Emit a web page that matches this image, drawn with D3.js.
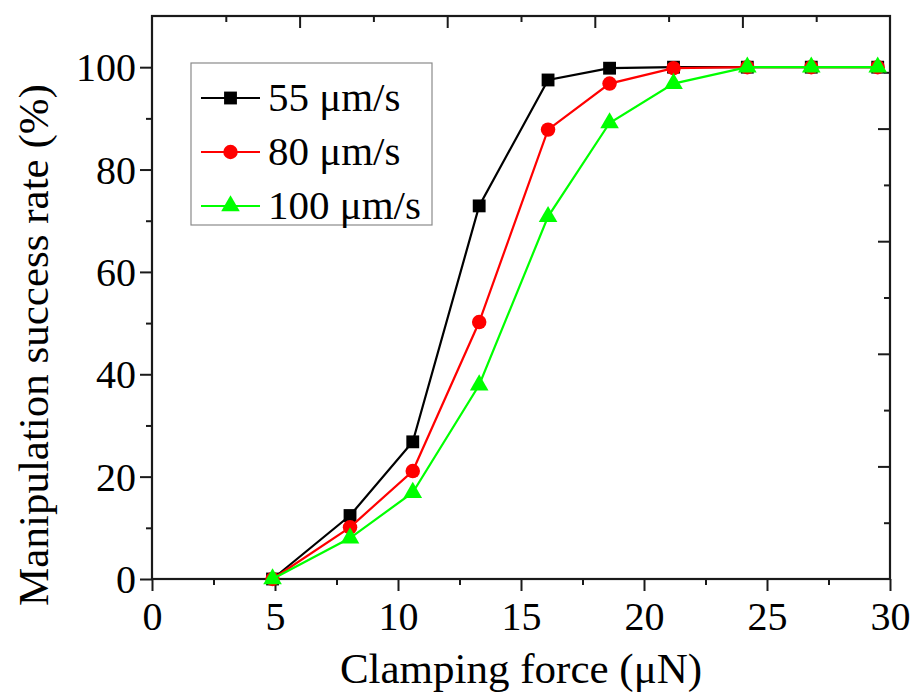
<!DOCTYPE html>
<html>
<head>
<meta charset="utf-8">
<script src="https://cdn.jsdelivr.net/npm/d3@7"></script>
<style>
  body { margin: 0; background: #fff; }
  text { font-family: "Liberation Serif", "Times New Roman", serif; fill: #000; }
</style>
</head>
<body>
<script>
// data
var force = [4.9, 8.05, 10.6, 13.3, 16.1, 18.6, 21.2, 24.2, 26.8, 29.5];
var rate55 = [0, 12.4, 26.8, 72.9, 97.5, 99.8, 100, 100, 100, 100];
var rate80 = [0, 10.1, 21.1, 50.2, 87.8, 96.8, 99.8, 100, 100, 100];
var rate100 = [0, 8.0, 16.9, 37.9, 70.8, 89.1, 96.8, 100, 100, 100];
var seriesNames = ["55 \u03bcm/s", "80 \u03bcm/s", "100 \u03bcm/s"];
var seriesColors = ["#000000", "#ff0000", "#00ff00"];
var seriesSymbols = [d3.symbolSquare, d3.symbolCircle, d3.symbolTriangle];
var symbolSizes = [165, 165, 150];
var xTicks = [0, 5, 10, 15, 20, 25, 30];
var yTicks = [0, 20, 40, 60, 80, 100];

var width = 915, height = 693;
var plot = { left: 152, right: 890, top: 16, bottom: 579 };

var svg = d3.select("body").append("svg")
  .attr("width", width)
  .attr("height", height);

var x = d3.scaleLinear().domain([0, 30]).range([plot.left, plot.right]);
var y = d3.scaleLinear().domain([0, 110]).range([plot.bottom, plot.top]);
// top and right axes carry their own plain tick spacing
var xTop = d3.scaleLinear().domain([0, 10]).range([plot.left, plot.right]);
var yRight = d3.scaleLinear().domain([0, 10]).range([plot.bottom, plot.top]);

var axisColor = "#1a1a1a";
var major = 12, minor = 6;

// bottom axis
var gBottom = svg.append("g").attr("transform", "translate(0," + plot.bottom + ")");
gBottom.call(d3.axisBottom(x).tickValues(d3.range(0, 30.01, 2.5)).tickSize(minor).tickFormat(""));
gBottom.selectAll(".tick line").attr("y2", function (d) { return d % 5 === 0 ? major : minor; });
gBottom.selectAll(".tick")
  .filter(function (d) { return xTicks.indexOf(d) >= 0; })
  .append("text")
  .attr("y", 51)
  .attr("text-anchor", "middle")
  .style("font-size", "40px")
  .text(function (d) { return d; });

// left axis
var gLeft = svg.append("g").attr("transform", "translate(" + plot.left + ",0)");
gLeft.call(d3.axisLeft(y).tickValues(d3.range(0, 101, 10)).tickSize(minor).tickFormat(""));
gLeft.selectAll(".tick line").attr("x2", function (d) { return d % 20 === 0 ? -major : -minor; });
gLeft.selectAll(".tick")
  .filter(function (d) { return yTicks.indexOf(d) >= 0; })
  .append("text")
  .attr("x", -16)
  .attr("dy", "0.34em")
  .attr("text-anchor", "end")
  .style("font-size", "40px")
  .text(function (d) { return d; });

// top axis (ticks inward)
var gTop = svg.append("g").attr("transform", "translate(0," + plot.top + ")");
gTop.call(d3.axisBottom(xTop).tickValues(d3.range(1, 10)).tickSize(minor).tickFormat(""));
gTop.selectAll(".tick line").attr("y2", function (d) { return d % 2 === 0 ? major : minor; });

// right axis (ticks inward)
var gRight = svg.append("g").attr("transform", "translate(" + plot.right + ",0)");
gRight.call(d3.axisLeft(yRight).tickValues(d3.range(1, 10)).tickSize(minor).tickFormat(""));
gRight.selectAll(".tick line").attr("x2", function (d) { return d % 2 === 0 ? -major : -minor; });

svg.selectAll(".domain").remove();
svg.selectAll(".tick line").attr("stroke", axisColor).attr("stroke-width", 2);

// frame
svg.append("rect")
  .attr("x", plot.left)
  .attr("y", plot.top)
  .attr("width", plot.right - plot.left)
  .attr("height", plot.bottom - plot.top)
  .attr("fill", "none")
  .attr("stroke", axisColor)
  .attr("stroke-width", 2.2);

// series
var allRates = [rate55, rate80, rate100];
var line = d3.line()
  .x(function (d) { return x(d[0]); })
  .y(function (d) { return y(d[1]); });

allRates.forEach(function (rates, i) {
  var pts = force.map(function (f, j) { return [f, rates[j]]; });
  var g = svg.append("g");
  g.append("path")
    .datum(pts)
    .attr("d", line)
    .attr("fill", "none")
    .attr("stroke", seriesColors[i])
    .attr("stroke-width", 2.2);
  g.selectAll("path.pt")
    .data(pts)
    .enter().append("path")
    .attr("class", "pt")
    .attr("transform", function (d) { return "translate(" + x(d[0]) + "," + y(d[1]) + ")"; })
    .attr("d", d3.symbol().type(seriesSymbols[i]).size(symbolSizes[i]))
    .attr("fill", seriesColors[i]);
});

// legend
var legend = svg.append("g");
legend.append("rect")
  .attr("x", 191).attr("y", 63)
  .attr("width", 241).attr("height", 162)
  .attr("fill", "#fff")
  .attr("stroke", "#8a8a8a")
  .attr("stroke-width", 1.2);

seriesNames.forEach(function (name, i) {
  var ly = 98 + i * 54;
  legend.append("line")
    .attr("x1", 201).attr("x2", 260)
    .attr("y1", ly).attr("y2", ly)
    .attr("stroke", seriesColors[i])
    .attr("stroke-width", 2.2);
  legend.append("path")
    .attr("transform", "translate(230.5," + ly + ")")
    .attr("d", d3.symbol().type(seriesSymbols[i]).size(symbolSizes[i]))
    .attr("fill", seriesColors[i]);
  legend.append("text")
    .attr("x", 268)
    .attr("y", ly + 13)
    .style("font-size", "41px")
    .text(name);
});

// axis titles
svg.append("text")
  .attr("x", (plot.left + plot.right) / 2)
  .attr("y", 683)
  .attr("text-anchor", "middle")
  .style("font-size", "43px")
  .text("Clamping force (\u03bcN)");

svg.append("text")
  .attr("transform", "translate(48,345) rotate(-90)")
  .attr("text-anchor", "middle")
  .style("font-size", "43px")
  .text("Manipulation success rate (%)");
</script>
</body>
</html>
